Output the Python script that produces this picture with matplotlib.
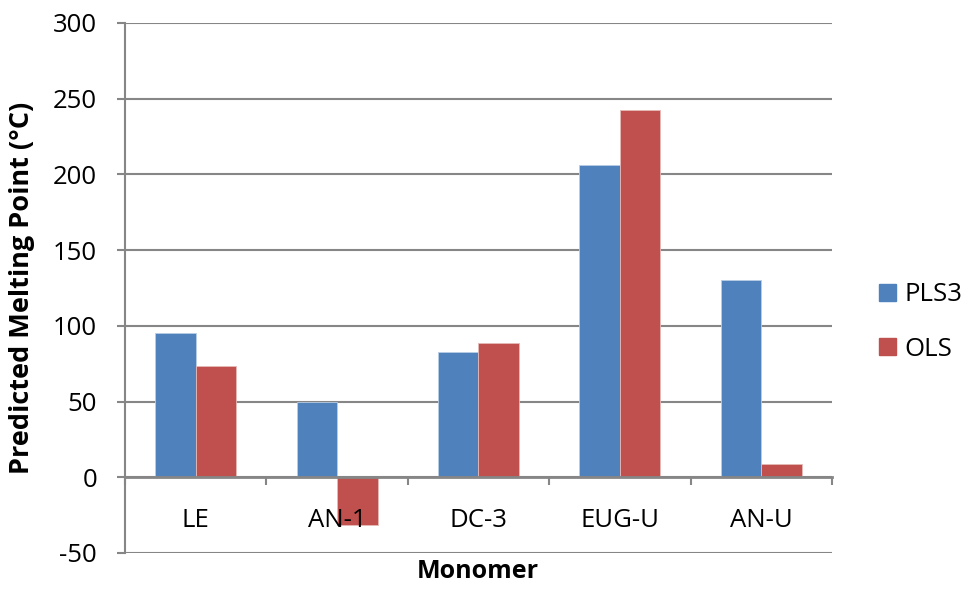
import numpy as np
import matplotlib
matplotlib.use("Agg")
import matplotlib.pyplot as plt
from matplotlib.patches import Patch
from matplotlib.ticker import MultipleLocator, FixedLocator

plt.rcParams['font.family'] = ['Open Sans', 'DejaVu Sans']
plt.rcParams['axes.unicode_minus'] = False

monomers = ["LE", "AN-1", "DC-3", "EUG-U", "AN-U"]
pls3 = [95, 50, 83, 206, 130.5]
ols = [73.5, -31.5, 89, 242.5, 8.5]

blue = "#4F81BD"
red = "#C0504D"
grey = "#868686"

fig = plt.figure(figsize=(9.64, 5.89), dpi=100)
ax = fig.add_axes([125/964, 1-553/589, 707/964, 530/589])

x = np.arange(len(monomers))
w = 0.286
ax.bar(x - w/2, pls3, w, color=blue, edgecolor="#b9cde5", linewidth=0.6, zorder=3)
ax.bar(x + w/2, ols, w, color=red, edgecolor="#e6b9b8", linewidth=0.6, zorder=3)

ax.set_xlim(-0.5, len(monomers) - 0.5)
ax.set_ylim(-50, 300)
ax.yaxis.set_major_locator(MultipleLocator(50))
ax.yaxis.grid(True, color=grey, linewidth=1.5)
ax.yaxis.set_zorder(0.5)
# category labels sit on top of the bars
ax.xaxis.set_zorder(5)

for s in ["top", "right"]:
    ax.spines[s].set_visible(False)
ax.spines["left"].set_color(grey)
ax.spines["left"].set_linewidth(1.5)
ax.spines["bottom"].set_position(("data", 0))
ax.spines["bottom"].set_color(grey)
ax.spines["bottom"].set_linewidth(2)
ax.spines["bottom"].set_zorder(4)

ax.set_xticks(x)
ax.set_xticklabels(monomers)
ax.xaxis.set_minor_locator(FixedLocator(np.arange(len(monomers) + 1) - 0.5))
ax.tick_params(axis="x", which="major", length=0, pad=22, labelsize=18.5)
ax.tick_params(axis="x", which="minor", length=6, width=1.5, color=grey, direction="out")
ax.tick_params(axis="y", length=6, width=1.5, color=grey, pad=14, labelsize=18.5)

fig.text(22/964, 1-288/589, "Predicted Melting Point (°C)", rotation=90,
         ha="center", va="center", fontsize=19.5, fontweight="bold")
fig.text(478/964, 1-572/589, "Monomer", ha="center", va="center",
         fontsize=18, fontweight="bold")

handles = [Patch(color=blue), Patch(color=red)]
fig.legend(handles, ["PLS3", "OLS"], loc="center left",
           bbox_to_anchor=(879/964, 1-322/589), frameon=False, fontsize=18.5,
           handlelength=0.65, handleheight=0.65, handletextpad=0.35,
           labelspacing=1.15, borderpad=0, borderaxespad=0)

fig.savefig("out.png", dpi=100)
